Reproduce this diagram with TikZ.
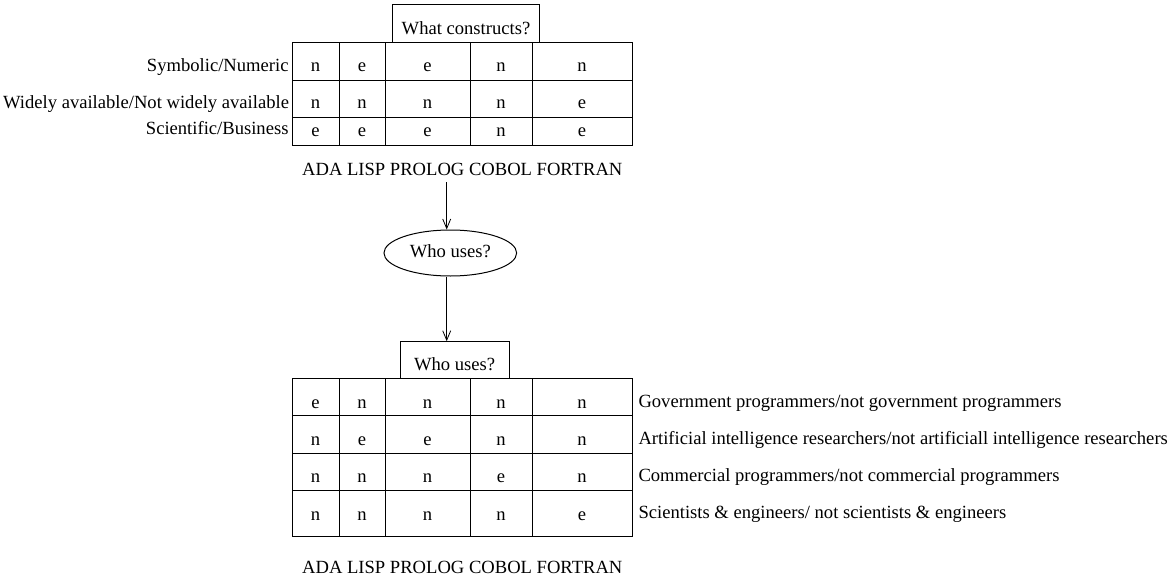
\documentclass[tikz,border=0pt]{standalone}
\usepackage{fontspec}
\setmainfont{Liberation Serif}
\usetikzlibrary{arrows.meta,shapes.geometric}
\begin{document}
\begin{tikzpicture}[x=1pt,y=-1pt,line width=1pt,
  font=\fontsize{18.6}{22}\selectfont,
  cell/.style={anchor=base,inner sep=0pt},
  rlabel/.style={anchor=base east,inner sep=0pt},
  llabel/.style={anchor=base west,inner sep=0pt},
  titlebox/.style={draw,inner sep=0pt,text depth=0pt},
  arr/.style={-{Straight Barb[length=9.5pt,width=8pt]},line width=0.8pt}]
\useasboundingbox (0,0) rectangle (1173,578);
% ---------- top table ----------
\draw (292,43) rectangle (632,145);
\foreach \y in {80.7,117.7} \draw (292,\y) -- (632,\y);
\foreach \x in {339,385,470,532} \draw (\x,43) -- (\x,145);
\node[titlebox,minimum width=146.6pt,minimum height=37.7pt,text height=21.3pt] (t1) at (466,23.85) {What constructs?};
\node[rlabel] (l1) at (289,71.7) {Symbolic/Numeric};
\node[rlabel] (l2) at (289.5,108.5) {Widely available/Not widely available};
\node[rlabel] (l3) at (289,134.8) {Scientific/Business};
\foreach \r/\yb/\vals in {1/71.7/{n,e,e,n,n},2/108.7/{n,n,n,n,e},3/136/{e,e,e,n,e}}{
  \foreach \v [count=\c] in \vals {
    \pgfmathsetmacro{\xc}{{315.5,362,427.5,501,582}[\c-1]}
    \node[cell] (a\r\c) at (\xc,\yb) {\v};
  }
}
\node[cell] (lang1) at (462.3,175) {ADA LISP PROLOG COBOL FORTRAN};
% ---------- middle ----------
\coordinate (s1) at (446.7,182);
\node[draw,ellipse,inner sep=0pt,minimum width=132.7pt,minimum height=46pt,text height=8.6pt,text depth=0pt] (ell) at (450.3,253) {Who uses?};
\node[titlebox,minimum width=108.7pt,minimum height=36.6pt,text height=20pt] (t2) at (454.65,360) {Who uses?};
\draw[arr] (s1) -- (s1 |- ell.north);
\draw[arr] (s1 |- ell.south) -- (s1 |- t2.north);
% ---------- bottom table ----------
\draw (292,378.3) rectangle (632,536.7);
\foreach \y in {415.7,453.2,490.6} \draw (292,\y) -- (632,\y);
\foreach \x in {339,385,470,532} \draw (\x,378.3) -- (\x,536.7);
\foreach \r/\yb/\vals in {1/408.3/{e,n,n,n,n},2/445.7/{n,e,e,n,n},3/482.5/{n,n,n,e,n},4/520.5/{n,n,n,n,e}}{
  \foreach \v [count=\c] in \vals {
    \pgfmathsetmacro{\xc}{{315.5,362,427.5,501,582}[\c-1]}
    \node[cell] (b\r\c) at (\xc,\yb) {\v};
  }
}
\node[llabel] (m1) at (638,407) {Government programmers/not government programmers};
\node[llabel] (m2) at (638,444) {Artificial intelligence researchers/not artificiall intelligence researchers};
\node[llabel] (m3) at (638,481) {Commercial programmers/not commercial programmers};
\node[llabel] (m4) at (638,518) {Scientists \& engineers/ not scientists \& engineers};
\node[cell] (lang2) at (462.3,573) {ADA LISP PROLOG COBOL FORTRAN};
\end{tikzpicture}
\end{document}
